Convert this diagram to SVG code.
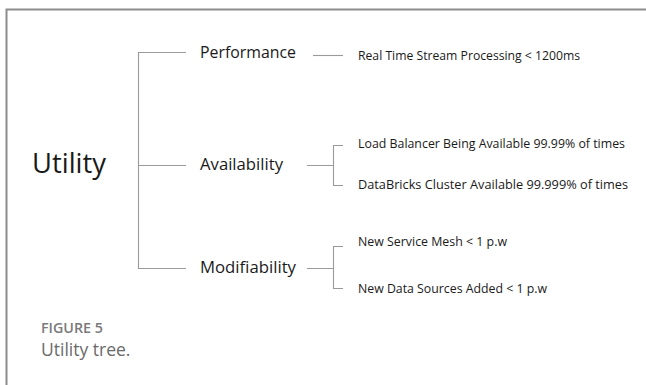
<svg xmlns="http://www.w3.org/2000/svg" width="646" height="385" viewBox="0 0 646 385">
  <style>
    .lbl { font-family: "Open Sans", "Noto Sans", sans-serif; fill: #1a1a1a; }
    .root { font-size: 27.5px; }
    .mid { font-size: 16.5px; }
    .leaf { font-size: 12.8px; }
    .link { fill: none; stroke: #9a9a9a; stroke-width: 1.1; }
    .frame { fill: none; stroke: #8c8c8c; stroke-width: 2; }
    .cap-title { font-family: "Open Sans", "Noto Sans", sans-serif; font-size: 13.5px; font-weight: 600; fill: #7a7a7a; }
    .cap-text { font-family: "Open Sans", "Noto Sans", sans-serif; font-size: 17.5px; fill: #6a6a6a; }
  </style>

  <rect width="646" height="385" fill="#ffffff"/>
  <!-- figure frame: top and left rules -->
  <path class="frame" d="M6.5 385 V9.5 H646"/>

  <!-- connectors -->
  <g id="connectors">
    <path class="link" d="M186 52.5 H138.5 V268.5 H186 M138.5 165.5 H186"/>
    <path class="link" d="M313 55.5 H343"/>
    <path class="link" d="M307 165.5 H333.5 M343 145.5 H333.5 V185.5 H343"/>
    <path class="link" d="M307 268.5 H333.5 M343 246.5 H333.5 V288.5 H343"/>
  </g>

  <g id="utility"><text class="lbl root" x="32" y="173" textLength="74" lengthAdjust="spacingAndGlyphs">Utility</text></g>
  <g id="performance"><text class="lbl mid" x="200" y="58" textLength="96" lengthAdjust="spacingAndGlyphs">Performance</text></g>
  <g id="availability"><text class="lbl mid" x="200" y="170" textLength="83" lengthAdjust="spacingAndGlyphs">Availability</text></g>
  <g id="modifiability"><text class="lbl mid" x="200" y="273" textLength="96" lengthAdjust="spacingAndGlyphs">Modifiability</text></g>

  <g id="stream-processing"><text class="lbl leaf" x="358" y="60" textLength="222" lengthAdjust="spacingAndGlyphs">Real Time Stream Processing &lt; 1200ms</text></g>
  <g id="load-balancer"><text class="lbl leaf" x="358" y="148" textLength="267" lengthAdjust="spacingAndGlyphs">Load Balancer Being Available 99.99% of times</text></g>
  <g id="databricks"><text class="lbl leaf" x="358" y="189" textLength="270" lengthAdjust="spacingAndGlyphs">DataBricks Cluster Available 99.999% of times</text></g>
  <g id="service-mesh"><text class="lbl leaf" x="358" y="246" textLength="149" lengthAdjust="spacingAndGlyphs">New Service Mesh &lt; 1 p.w</text></g>
  <g id="data-sources"><text class="lbl leaf" x="358" y="293" textLength="189" lengthAdjust="spacingAndGlyphs">New Data Sources Added &lt; 1 p.w</text></g>

  <!-- caption -->
  <text class="cap-title" x="41" y="333" textLength="62" lengthAdjust="spacingAndGlyphs">FIGURE 5</text>
  <text class="cap-text" x="41" y="356">Utility tree.</text>
</svg>
